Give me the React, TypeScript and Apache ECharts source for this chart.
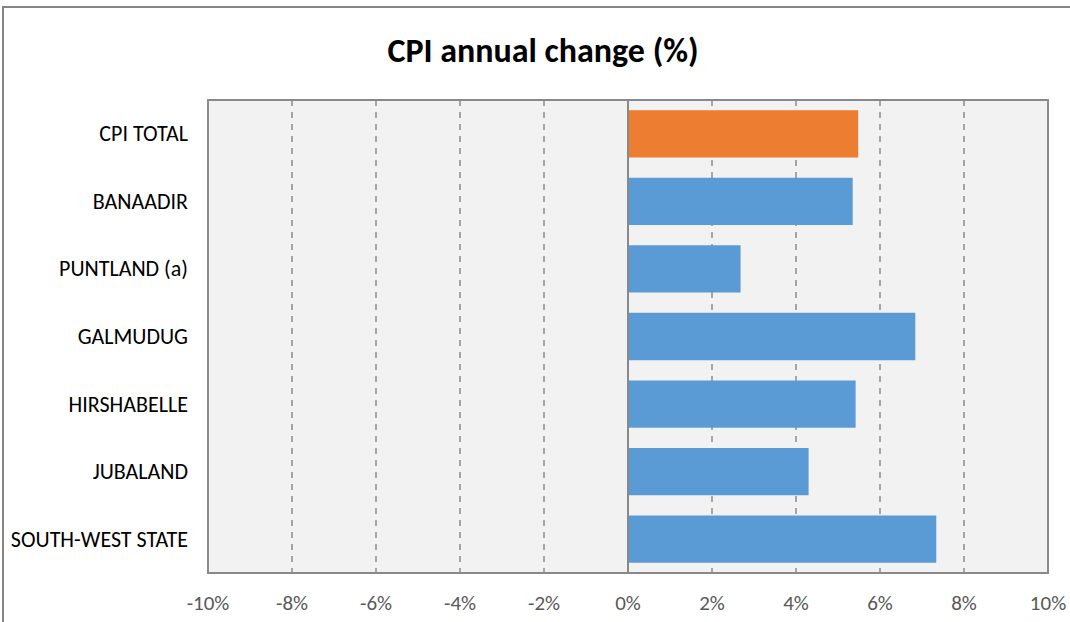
import React, { useEffect, useRef } from "react";
import * as echarts from "echarts";

const categories = [
  "CPI TOTAL",
  "BANAADIR",
  "PUNTLAND (a)",
  "GALMUDUG",
  "HIRSHABELLE",
  "JUBALAND",
  "SOUTH-WEST STATE",
];
const values = [5.48, 5.35, 2.68, 6.84, 5.42, 4.3, 7.34];
const barColors = ["#ED7D31", "#5B9BD5", "#5B9BD5", "#5B9BD5", "#5B9BD5", "#5B9BD5", "#5B9BD5"];
const xMin = -10;
const xMax = 10;
const xStep = 2;
const titleText = "CPI annual change (%)";

const FONT = "Carlito, Calibri, Lato, sans-serif";

export default function App() {
  const ref = useRef<HTMLDivElement>(null);
  useEffect(() => {
    document.body.style.margin = "0";
    const chart = echarts.init(ref.current!, undefined, { renderer: "svg" });
    chart.setOption({
      animation: false,
      backgroundColor: "#ffffff",
      textStyle: { fontFamily: FONT },
      title: {
        text: titleText,
        left: 538,
        textAlign: "center",
        top: 28,
        textStyle: { fontFamily: FONT, fontSize: 34, fontWeight: "bold", color: "#000000" },
      },
      graphic: [
        {
          type: "rect",
          shape: { x: 3, y: 7, width: 1200, height: 800 },
          style: { fill: "none", stroke: "#858585", lineWidth: 2 },
          silent: true,
        },
      ],
      grid: {
        left: 208,
        top: 100,
        right: 22,
        bottom: 49,
        show: true,
        backgroundColor: "#F2F2F2",
        borderColor: "#898989",
        borderWidth: 2,
        containLabel: false,
      },
      xAxis: {
        type: "value",
        min: xMin,
        max: xMax,
        interval: xStep,
        axisLine: { show: false },
        axisTick: { show: false },
        axisLabel: {
          formatter: (v: number) => `${v}%`,
          color: "#595959",
          fontSize: 21,
          fontFamily: FONT,
          margin: 19,
        },
        splitLine: {
          show: true,
          lineStyle: { color: "#8C8C8C", width: 1.5, type: [6, 6] },
        },
      },
      yAxis: {
        type: "category",
        data: categories,
        inverse: true,
        axisLine: { show: false },
        axisTick: { show: false },
        axisLabel: { color: "#000000", fontSize: 22, fontFamily: FONT, margin: 20 },
        splitLine: { show: false },
      },
      series: [
        {
          type: "bar",
          barCategoryGap: "30%",
          data: values.map((v, i) => ({ value: v, itemStyle: { color: barColors[i] } })),
          markLine: {
            silent: true,
            symbol: "none",
            label: { show: false },
            lineStyle: { color: "#898989", width: 2, type: "solid" },
            data: [{ xAxis: 0 }],
          },
        },
      ],
    });
    return () => chart.dispose();
  }, []);
  return <div ref={ref} style={{ width: 1070, height: 622 }} />;
}
